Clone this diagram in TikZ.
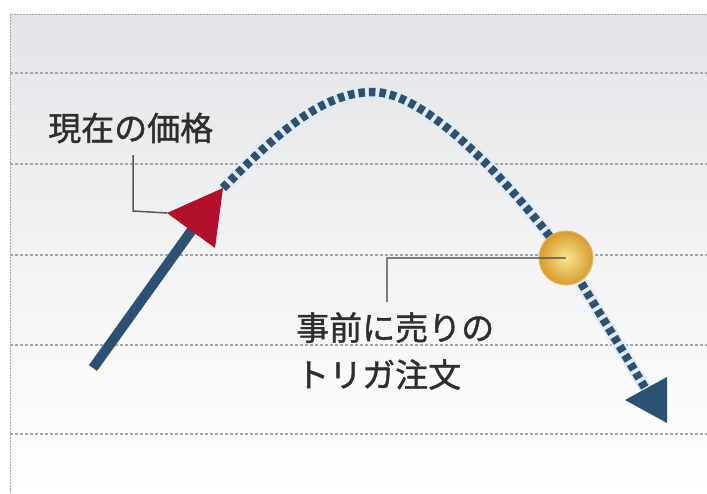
\documentclass[tikz,border=0pt]{standalone}
\usepackage{fontspec}
\newfontfamily\jp{Noto Sans CJK JP}[FakeBold=1.2]
\definecolor{bgtop}{HTML}{E3E4E7}
\definecolor{gridc}{HTML}{A3A5A8}
\definecolor{pathblue}{HTML}{2D5173}
\definecolor{halo}{HTML}{E2EAF2}
\definecolor{pricered}{HTML}{B20F2A}
\definecolor{leadc}{HTML}{555555}
\definecolor{textc}{HTML}{2E2E2E}
\definecolor{goldin}{HTML}{F8E690}
\definecolor{goldout}{HTML}{D99A2E}
\definecolor{goldrim}{HTML}{E6B65C}
\begin{document}
\begin{tikzpicture}[x=1pt,y=-1pt,
  gridline/.style={gridc, line width=1.1pt, dash pattern=on 3pt off 2pt},
  framebd/.style={gridc, line width=1pt, dash pattern=on 2pt off 1pt},
  leader/.style={leadc, line width=1.5pt},
  solidpath/.style={pathblue, line width=10pt},
  halopath/.style={halo, line width=12.5pt},
  dotpath/.style={pathblue, line width=8.5pt, dash pattern=on 6.5pt off 4pt},
  lbl/.style={textc, font=\jp\fontsize{33}{47}\selectfont, inner sep=0pt, align=left},
  trigger/.style={circle, minimum size=54pt, inner sep=0pt, draw=goldrim, line width=1pt, inner color=goldin, outer color=goldout}
]
\useasboundingbox (0,0) rectangle (707,493);
% background
\shade[top color=bgtop, bottom color=white, middle color=bgtop!45] (10,14) rectangle (707,493);
\draw[framebd] (10,493) -- (10,14) -- (707,14);
% grid
\foreach \yy in {73,164,255,345,434} \draw[gridline] (10,\yy) -- (707,\yy);

% coordinates
\coordinate (start) at (93,368);
\coordinate (redL) at (167,213);
\coordinate (redTip) at (223,188);
\coordinate (redB) at (215,248);
\coordinate (redC) at (202,216);
\coordinate (peak) at (373,92);
\coordinate (trig) at (566,258);
\coordinate (bluL) at (625,400);
\coordinate (bluTip) at (667,423);
\coordinate (bluT) at (667,377);
\coordinate (bluC) at (650,396);

% solid past path
\draw[solidpath] (start) -- (redC);

% future dotted path
\draw[halopath] (redTip) .. controls (273,138) and (320,92) .. (peak)
   .. controls (430,92) and (520,195) .. (trig) -- (bluC);
\draw[dotpath] (redTip) .. controls (273,138) and (320,92) .. (peak)
   .. controls (430,92) and (520,195) .. (trig) -- (bluC);

% arrowheads
\fill[pricered] (redL) -- (redTip) -- (redB) -- cycle;
\fill[pathblue] (bluL) -- (bluT) -- (bluTip) -- cycle;

% trigger order
\node[trigger] (order) at (trig) {};

% labels
\node[lbl, anchor=west] (now) at (48,128) {現在の価格};
\node[lbl, anchor=west] (sell) at (296,351) {事前に売りの\\トリガ注文};

% leaders
\coordinate (k1) at (133,211);
\coordinate (k2) at (387,258);
\draw[leader] (133,155) -- (k1) -- (redL);
\draw[leader, opacity=0.75] (order.center) -- (k2) -- (387,302);
\end{tikzpicture}
\end{document}
